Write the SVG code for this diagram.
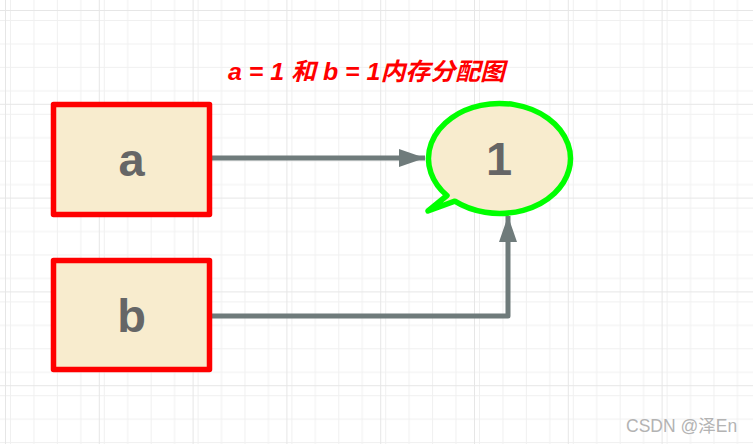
<svg xmlns="http://www.w3.org/2000/svg" width="753" height="444" viewBox="0 0 753 444">
<defs>
<pattern id="minor" x="5" y="10" width="23.45" height="23.45" patternUnits="userSpaceOnUse">
<path d="M0 0V23.45M0 0H23.45" fill="none" stroke="#f0f0f0" stroke-width="2"/>
</pattern>
<pattern id="major" x="5" y="10" width="93.8" height="93.8" patternUnits="userSpaceOnUse">
<rect width="93.8" height="93.8" fill="url(#minor)"/>
<path d="M0 0V93.8M0 0H93.8" fill="none" stroke="#e6e6e6" stroke-width="2"/>
</pattern>
<marker id="arr" viewBox="0 0 26 18" refX="26" refY="9" markerWidth="26" markerHeight="18" markerUnits="userSpaceOnUse" orient="auto">
<path d="M0 0L26 9L0 18Z" fill="#6f7b7b"/>
</marker>
<style>
.box{fill:#f8ecce;stroke:#ff0000;stroke-width:5.5;stroke-linejoin:round}
.lbl{font-family:"Liberation Sans",Arial,sans-serif;font-weight:bold;font-size:47px;fill:#666666;text-anchor:middle}
.edge{fill:none;stroke:#6f7b7b;stroke-width:5;stroke-linejoin:round}
</style>
</defs>
<rect width="753" height="444" fill="#ffffff"/>
<rect width="753" height="444" fill="url(#major)"/>
<text x="228" y="80" font-family="'Liberation Sans','Noto Sans CJK SC',sans-serif" font-weight="bold" font-style="italic" font-size="24" fill="#ff0000" textLength="277" lengthAdjust="spacingAndGlyphs">a = 1 和 b = 1内存分配图</text>
<g id="edges">
<path class="edge" d="M212 158H425" marker-end="url(#arr)"/>
<path class="edge" d="M212 316H508V216" marker-end="url(#arr)"/>
</g>
<g id="node-a">
<rect class="box" x="53.5" y="104.5" width="156" height="110"/>
<text class="lbl" x="131.5" y="176">a</text>
</g>
<g id="node-b">
<rect class="box" x="53.5" y="260.5" width="156" height="109"/>
<text class="lbl" x="131.5" y="332">b</text>
</g>
<g id="node-1">
<path d="M447 195.5A71 55 0 1 1 454.8 201.2L428 211Z" fill="#f8ecce" stroke="#00ff00" stroke-width="5.5" stroke-linejoin="round"/>
<text class="lbl" x="499" y="175">1</text>
</g>
<text x="626" y="432" font-family="'Liberation Sans','Noto Sans CJK SC',sans-serif" font-size="17.5" fill="#b3b3b3">CSDN @泽En</text>
</svg>
